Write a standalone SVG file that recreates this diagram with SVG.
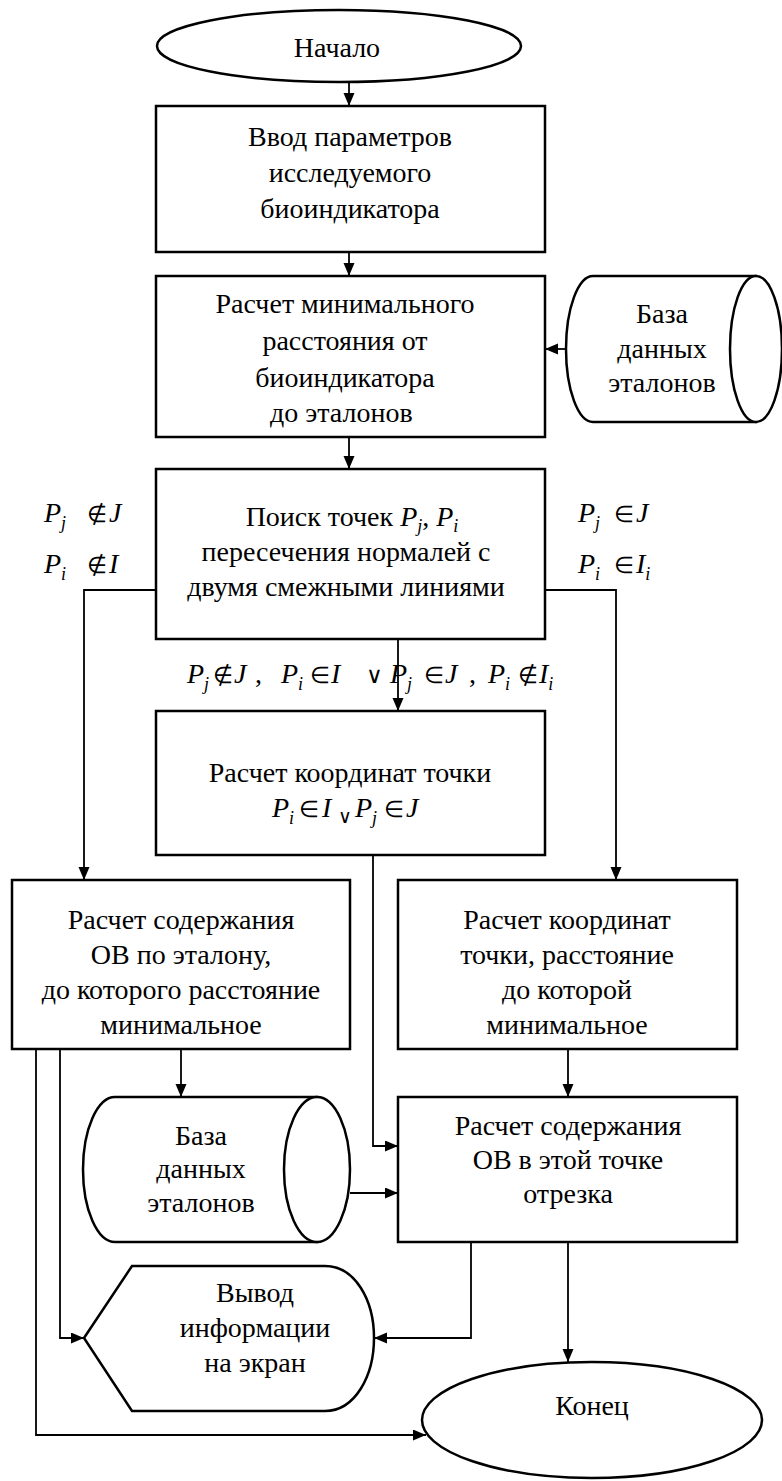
<svg xmlns="http://www.w3.org/2000/svg" width="782" height="1481" viewBox="0 0 782 1481" font-family="Liberation Serif" font-size="28">
<style>
.s{fill:#fff;stroke:#000;stroke-width:2.5}
.c{fill:none;stroke:#000;stroke-width:1.8}
text{font-family:'Liberation Serif',serif;font-size:28px;fill:#000}
.m{text-anchor:middle}
.i{font-style:italic}
.sub{font-size:18px;font-style:italic}
.o{font-size:23px}
</style>
<defs>
<marker id="a" markerUnits="userSpaceOnUse" markerWidth="14" markerHeight="12" refX="13" refY="5.5" orient="auto">
<path d="M0,0 L13,5.5 L0,11 z" fill="#000"/>
</marker>
</defs>
<rect width="782" height="1481" fill="#fff"/>
<g id="connectors" class="c" marker-end="url(#a)">
<path d="M349,82 V106"/>
<path d="M349,252 V276"/>
<path d="M566,349 H545"/>
<path d="M349,437 V469"/>
<path d="M156,590 H84 V880"/>
<path d="M545,590 H616 V880"/>
<path d="M398,639 V711"/>
<path d="M373,855 V1146 H398"/>
<path d="M181,1049 V1097"/>
<path d="M568,1049 V1097"/>
<path d="M350,1193 H398"/>
<path d="M60,1049 V1338 H84"/>
<path d="M36,1049 V1435 H426"/>
<path d="M471,1242 V1338 H374"/>
<path d="M568,1242 V1362"/>
</g>
<g id="start">
<ellipse class="s" stroke-width="2" cx="339" cy="46" rx="182" ry="36"/>
<text class="m" x="337" y="57">Начало</text>
</g>
<g id="box1">
<rect class="s" x="156" y="106" width="389" height="146"/>
<text class="m" x="350" y="146">Ввод параметров</text>
<text class="m" x="350" y="182">исследуемого</text>
<text class="m" x="350" y="218">биоиндикатора</text>
</g>
<g id="box2">
<rect class="s" x="156" y="276" width="389" height="161"/>
<text class="m" x="345" y="313">Расчет минимального</text>
<text class="m" x="345" y="350">расстояния от</text>
<text class="m" x="345" y="387">биоиндикатора</text>
<text x="270" y="422">до эталонов</text>
</g>
<g id="db1">
<path class="s" stroke-width="2" d="M593,276 H756 V422 H593 A27,73 0 0 1 593,276 Z"/>
<ellipse class="s" stroke-width="2" cx="756" cy="349" rx="26" ry="73"/>
<text class="m" x="662" y="323">База</text>
<text class="m" x="662" y="358">данных</text>
<text class="m" x="662" y="392">эталонов</text>
</g>
<g id="box3">
<rect class="s" x="156" y="469" width="389" height="170"/>
<text class="m" x="352" y="526">Поиск точек <tspan class="i">P</tspan><tspan class="sub" dy="6">j</tspan><tspan dy="-6">, </tspan><tspan class="i">P</tspan><tspan class="sub" dy="6">i</tspan></text>
<text class="m" x="346" y="561">пересечения нормалей с</text>
<text class="m" x="346" y="596">двумя смежными линиями</text>
</g>
<g id="label-left">
<text x="44" y="522"><tspan class="i">P</tspan><tspan class="sub" dy="7">j</tspan><tspan class="o" x="87" dy="-7">∉</tspan><tspan class="i" x="109">J</tspan></text>
<text x="44" y="573"><tspan class="i">P</tspan><tspan class="sub" dy="7">i</tspan><tspan class="o" x="87" dy="-7">∉</tspan><tspan class="i" x="109">I</tspan></text>
</g>
<g id="label-right">
<text x="578" y="522"><tspan class="i">P</tspan><tspan class="sub" dy="7">j</tspan><tspan class="o" x="614" dy="-7">∈</tspan><tspan class="i" x="636">J</tspan></text>
<text x="578" y="573"><tspan class="i">P</tspan><tspan class="sub" dy="7">i</tspan><tspan class="o" x="614" dy="-7">∈</tspan><tspan class="i" x="636">I</tspan><tspan class="sub" dy="7">i</tspan></text>
</g>
<g id="label-mid">
<text y="683"><tspan class="i" x="187">P</tspan><tspan class="sub" dy="7">j</tspan><tspan class="o" x="213" dy="-7">∉</tspan><tspan class="i" x="234">J</tspan><tspan x="255">,</tspan><tspan class="i" x="281">P</tspan><tspan class="sub" dy="7">i</tspan><tspan class="o" x="310" dy="-7">∈</tspan><tspan class="i" x="331">I</tspan><tspan class="o" x="366">∨</tspan><tspan class="i" x="390">P</tspan><tspan class="sub" dy="7">j</tspan><tspan class="o" x="424" dy="-7">∈</tspan><tspan class="i" x="445">J</tspan><tspan x="469">,</tspan><tspan class="i" x="488">P</tspan><tspan class="sub" dy="7">i</tspan><tspan class="o" x="518" dy="-7">∉</tspan><tspan class="i" x="539">I</tspan><tspan class="sub" dy="7">i</tspan></text>
</g>
<g id="box4">
<rect class="s" x="156" y="711" width="389" height="144"/>
<text class="m" x="350" y="782">Расчет координат точки</text>
<text y="817"><tspan class="i" x="272">P</tspan><tspan class="sub" dy="7">i</tspan><tspan class="o" x="299" dy="-7">∈</tspan><tspan class="i" x="322">I</tspan><tspan x="338" dy="6" font-size="19">∨</tspan><tspan class="i" x="355" dy="-6">P</tspan><tspan class="sub" dy="7">j</tspan><tspan class="o" x="384" dy="-7">∈</tspan><tspan class="i" x="406">J</tspan></text>
</g>
<g id="box5">
<rect class="s" x="12" y="880" width="338" height="169"/>
<text class="m" x="181" y="929">Расчет содержания</text>
<text class="m" x="181" y="964">ОВ по эталону,</text>
<text class="m" x="181" y="999">до которого расстояние</text>
<text class="m" x="181" y="1034">минимальное</text>
</g>
<g id="box6">
<rect class="s" x="398" y="880" width="339" height="169"/>
<text class="m" x="567" y="929">Расчет координат</text>
<text class="m" x="567" y="964">точки, расстояние</text>
<text class="m" x="567" y="999">до которой</text>
<text class="m" x="567" y="1034">минимальное</text>
</g>
<g id="db2">
<path class="s" stroke-width="2" d="M115,1097 H317 V1242 H115 A32,72.5 0 0 1 115,1097 Z"/>
<ellipse class="s" stroke-width="2" cx="317" cy="1169.5" rx="33" ry="72.5"/>
<text class="m" x="201" y="1145">База</text>
<text class="m" x="201" y="1178">данных</text>
<text class="m" x="201" y="1212">эталонов</text>
</g>
<g id="box7">
<rect class="s" x="398" y="1097" width="339" height="145"/>
<text class="m" x="568" y="1135">Расчет содержания</text>
<text class="m" x="568" y="1169">ОВ в этой точке</text>
<text class="m" x="568" y="1203">отрезка</text>
</g>
<g id="output">
<path class="s" stroke-width="2" d="M84,1338 L132,1266 H325 C355,1266 374,1300 374,1338 C374,1376 355,1411 325,1411 H132 Z"/>
<text class="m" x="255" y="1302">Вывод</text>
<text class="m" x="255" y="1337">информации</text>
<text class="m" x="255" y="1372">на экран</text>
</g>
<g id="end">
<ellipse class="s" stroke-width="2" cx="592" cy="1420" rx="170" ry="58"/>
<text class="m" x="592" y="1415">Конец</text>
</g>
</svg>
